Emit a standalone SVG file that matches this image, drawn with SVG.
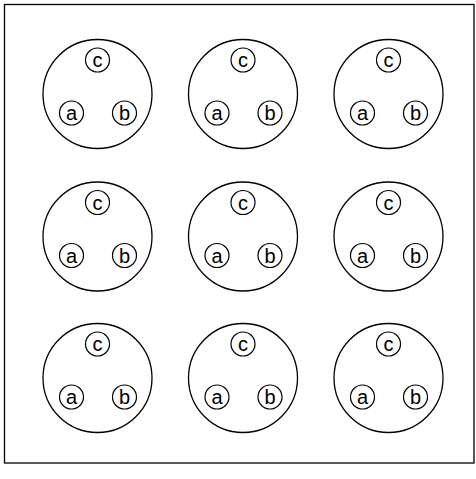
<svg xmlns="http://www.w3.org/2000/svg" width="476" height="479" viewBox="0 0 476 479">
<style>
.big{fill:none;stroke:#000;stroke-width:1.3}
.sm{fill:none;stroke:#000;stroke-width:1.2}
text{font-family:"Liberation Sans",Arial,sans-serif;font-size:20px;text-anchor:middle;fill:#000}
</style>
<defs>
<g id="unit">
<circle class="big" cx="0" cy="0" r="54.5"/>
<circle class="sm" cx="0" cy="-34" r="12"/>
<text x="0" y="-27">c</text>
<circle class="sm" cx="-26" cy="19" r="12"/>
<text x="-26" y="26">a</text>
<circle class="sm" cx="27" cy="19" r="12"/>
<text x="27" y="26">b</text>
</g>
</defs>
<rect x="0" y="0" width="476" height="479" fill="#fff"/>
<rect x="4.5" y="4.5" width="469.5" height="458.5" fill="none" stroke="#000" stroke-width="1.3"/>
<g id="n11" transform="translate(97.5,94)"><use href="#unit"/></g>
<g id="n12" transform="translate(243,94)"><use href="#unit"/></g>
<g id="n13" transform="translate(388.5,94)"><use href="#unit"/></g>
<g id="n21" transform="translate(97.5,236.5)"><use href="#unit"/></g>
<g id="n22" transform="translate(243,236.5)"><use href="#unit"/></g>
<g id="n23" transform="translate(388.5,236.5)"><use href="#unit"/></g>
<g id="n31" transform="translate(97.5,378)"><use href="#unit"/></g>
<g id="n32" transform="translate(243,378)"><use href="#unit"/></g>
<g id="n33" transform="translate(388.5,378)"><use href="#unit"/></g>
<g id="connectors"/>
</svg>
